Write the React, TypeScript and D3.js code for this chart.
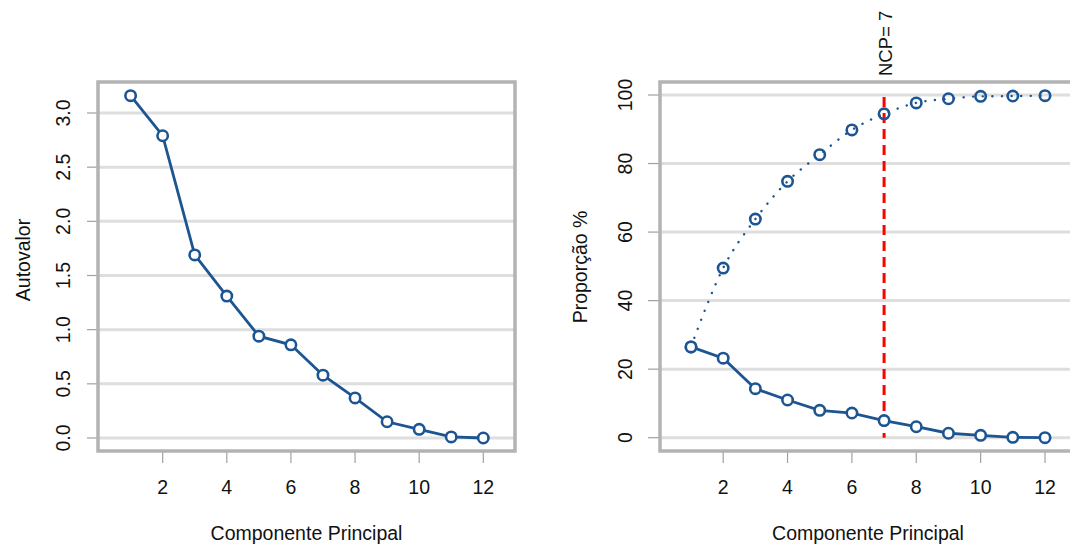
import React from "react";
import * as d3 from "d3";

const components = [1, 2, 3, 4, 5, 6, 7, 8, 9, 10, 11, 12];
const eigenvalues = [3.16, 2.79, 1.69, 1.31, 0.94, 0.86, 0.58, 0.37, 0.15, 0.08, 0.01, 0.0];
const proportion = [26.5, 23.2, 14.3, 11.0, 8.0, 7.2, 5.0, 3.2, 1.3, 0.7, 0.1, 0.0];
const cumulative = [26.5, 49.5, 63.8, 74.8, 82.6, 89.8, 94.5, 97.7, 98.9, 99.6, 99.7, 99.8];
const xTicks = [2, 4, 6, 8, 10, 12];
const leftYTicks = [0, 0.5, 1.0, 1.5, 2.0, 2.5, 3.0];
const rightYTicks = [0, 20, 40, 60, 80, 100];
const ncp = 7;

const BLUE = "#1c5592";
const FONT = "'Liberation Sans', Arial, Helvetica, sans-serif";
const FRAME = "#b3b3b3";
const GRID = "#dedede";
const TICK = "#a0a0a0";

export default function App() {
  // left panel
  const L = { x0: 98, x1: 515, y0: 82, y1: 451 };
  const lx = d3.scaleLinear().domain([1, 12]).range([130.6, 483.3]);
  const ly = d3.scaleLinear().domain([0, 3]).range([438, 113]);
  // right panel
  const R = { x0: 660, x1: 1075, y0: 82, y1: 451 };
  const rx = d3.scaleLinear().domain([1, 12]).range([691, 1045]);
  const ry = d3.scaleLinear().domain([0, 100]).range([437.7, 95]);

  const lineL = d3.line<number>().x((_, i) => lx(components[i])).y((d) => ly(d));
  const lineProp = d3.line<number>().x((_, i) => rx(components[i])).y((d) => ry(d));
  const lineCum = d3
    .line<number>()
    .x((_, i) => rx(components[i]))
    .y((d) => ry(d))
    .curve(d3.curveMonotoneX);

  const fs = 19.5;

  return (
    <svg
      width={1070}
      height={548}
      style={{ position: "absolute", left: 0, top: 0, background: "#fff" }}
      fontFamily={FONT}
    >
      <rect x={0} y={0} width={1070} height={548} fill="#fff" />
      {/* ===== Left panel ===== */}
      <g>
        {leftYTicks.map((t) => (
          <line key={"lg" + t} x1={L.x0} x2={L.x1} y1={ly(t)} y2={ly(t)} stroke={GRID} strokeWidth={3} />
        ))}
        {leftYTicks.map((t) => (
          <g key={"lt" + t}>
            <line x1={87} x2={L.x0} y1={ly(t)} y2={ly(t)} stroke={TICK} strokeWidth={1.2} />
            <text
              transform={`translate(63,${ly(t)}) rotate(-90)`}
              textAnchor="middle"
              dominantBaseline="central"
              fontSize={fs}
              fill="#111"
            >
              {d3.format(".1f")(t)}
            </text>
          </g>
        ))}
        {xTicks.map((t) => (
          <g key={"lx" + t}>
            <line x1={lx(t)} x2={lx(t)} y1={L.y1} y2={463} stroke={TICK} strokeWidth={1.2} />
            <text x={lx(t)} y={487} textAnchor="middle" dominantBaseline="central" fontSize={fs} fill="#111">
              {t}
            </text>
          </g>
        ))}
        <rect x={L.x0} y={L.y0} width={L.x1 - L.x0} height={L.y1 - L.y0} fill="none" stroke={FRAME} strokeWidth={3.5} />
        <path d={lineL(eigenvalues) || ""} fill="none" stroke={BLUE} strokeWidth={2.8} />
        {eigenvalues.map((v, i) => (
          <circle key={"lp" + i} cx={lx(components[i])} cy={ly(v)} r={5.2} fill="#fff" stroke={BLUE} strokeWidth={2.6} />
        ))}
        <text x={(L.x0 + L.x1) / 2} y={533} textAnchor="middle" dominantBaseline="central" fontSize={fs} fill="#111">
          Componente Principal
        </text>
        <text
          transform={`translate(23,260) rotate(-90)`}
          textAnchor="middle"
          dominantBaseline="central"
          fontSize={fs}
          fill="#111"
        >
          Autovalor
        </text>
      </g>

      {/* ===== Right panel ===== */}
      <g>
        {rightYTicks.map((t) => (
          <line key={"rg" + t} x1={R.x0} x2={R.x1} y1={ry(t)} y2={ry(t)} stroke={GRID} strokeWidth={3} />
        ))}
        {rightYTicks.map((t) => (
          <g key={"rt" + t}>
            <line x1={648} x2={R.x0} y1={ry(t)} y2={ry(t)} stroke={TICK} strokeWidth={1.2} />
            <text
              transform={`translate(625,${ry(t)}) rotate(-90)`}
              textAnchor="middle"
              dominantBaseline="central"
              fontSize={fs}
              fill="#111"
            >
              {t}
            </text>
          </g>
        ))}
        {xTicks.map((t) => (
          <g key={"rx" + t}>
            <line x1={rx(t)} x2={rx(t)} y1={R.y1} y2={463} stroke={TICK} strokeWidth={1.2} />
            <text x={rx(t)} y={487} textAnchor="middle" dominantBaseline="central" fontSize={fs} fill="#111">
              {t}
            </text>
          </g>
        ))}
        <rect x={R.x0} y={R.y0} width={R.x1 - R.x0} height={R.y1 - R.y0} fill="none" stroke={FRAME} strokeWidth={3.5} />
        <line
          x1={rx(ncp)}
          x2={rx(ncp)}
          y1={ry(100) + 2}
          y2={ry(0)}
          stroke="#ff0000"
          strokeWidth={3}
          strokeDasharray="10,6"
        />
        <path d={lineCum(cumulative) || ""} fill="none" stroke={BLUE} strokeWidth={2.4} strokeDasharray="0.1,9.5" strokeLinecap="round" />
        {cumulative.map((v, i) => (
          <circle key={"cp" + i} cx={rx(components[i])} cy={ry(v)} r={5.2} fill="none" stroke={BLUE} strokeWidth={2.6} />
        ))}
        <path d={lineProp(proportion) || ""} fill="none" stroke={BLUE} strokeWidth={2.8} />
        {proportion.map((v, i) => (
          <circle key={"pp" + i} cx={rx(components[i])} cy={ry(v)} r={5.2} fill="#fff" stroke={BLUE} strokeWidth={2.6} />
        ))}
        <text
          transform={`translate(${rx(ncp) + 1},76) rotate(-90)`}
          textAnchor="start"
          dominantBaseline="central"
          fontSize={18.5}
          fill="#111"
        >
          {`NCP= ${ncp}`}
        </text>
        <text x={(rx(1) + rx(12)) / 2 - 0} y={533} textAnchor="middle" dominantBaseline="central" fontSize={fs} fill="#111">
          Componente Principal
        </text>
        <text
          transform={`translate(580,267) rotate(-90)`}
          textAnchor="middle"
          dominantBaseline="central"
          fontSize={fs}
          fill="#111"
        >
          Proporção %
        </text>
      </g>
    </svg>
  );
}
